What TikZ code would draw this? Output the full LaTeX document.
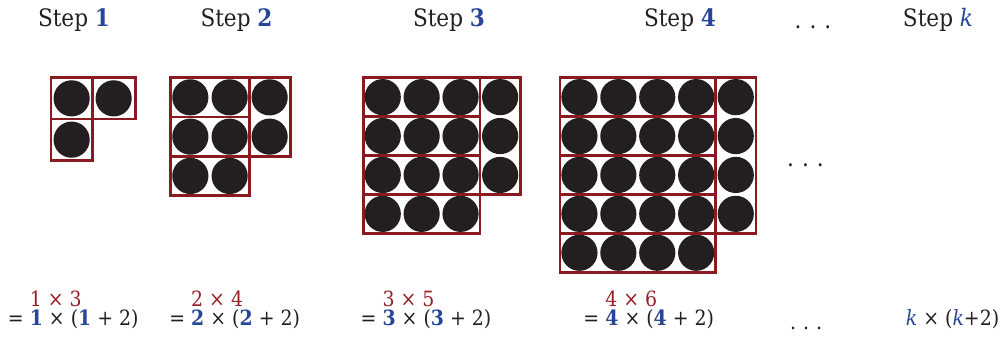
\documentclass[tikz,border=0pt]{standalone}
\usepackage{fontspec}
\setmainfont[FakeStretch=0.9]{DejaVu Serif}
\definecolor{dotc}{RGB}{35,31,32}
\definecolor{boxc}{RGB}{136,26,32}
\definecolor{numb}{RGB}{40,70,150}
\definecolor{redt}{RGB}{150,32,38}
\definecolor{txt}{RGB}{35,31,32}
\newcommand\dotstep[4]{% #1 n, #2 left, #3 top, #4 cell
  \foreach \j in {0,...,#1}{\foreach \i in {1,...,#1}{
    \fill[dotc] ({#2+(\i-0.5)*#4},{#3+(\j+0.5)*#4}) circle (18.1pt);}}
  \foreach \j in {1,...,#1}{
    \fill[dotc] ({#2+(#1+0.5)*#4+0.7},{#3+(\j-0.5)*#4}) circle (18.1pt);}
  \foreach \j in {0,...,#1}{
    \draw[boxline] (#2,{#3+\j*#4}) rectangle ({#2+#1*#4},{#3+(\j+1)*#4});}
  \draw[boxline] ({#2+#1*#4},#3) rectangle ({#2+(#1+1)*#4+1.5},{#3+#1*#4});
}
\newcommand\bn[1]{\textcolor{numb}{\textbf{#1}}}
\newcommand\kk{\textcolor{numb}{\textit{k}}}
\begin{document}
\begin{tikzpicture}[x=1pt,y=-1pt,
  boxline/.style={draw=boxc,line width=2.8pt},
  lbl/.style={inner sep=0pt,anchor=base,text=txt,font=\fontsize{24}{28}\selectfont},
  eq/.style={inner sep=0pt,anchor=base,text=txt,font=\fontsize{21}{25}\selectfont},
  prod/.style={inner sep=0pt,anchor=base west,text=redt,font=\fontsize{21}{25}\selectfont,yshift=19pt}]
\useasboundingbox (0,0) rectangle (1003,342);
% top labels
\node[lbl] (s1) at (74,27) {Step \bn{1}};
\node[lbl] (s2) at (236.5,27) {Step \bn{2}};
\node[lbl] (s3) at (449,27) {Step \bn{3}};
\node[lbl] (s4) at (680,27) {Step \bn{4}};
\node[lbl] (sd) at (813,28.5) {.\,\,.\,\,.};
\node[lbl] (sk) at (938,27) {Step \kk};
% dot patterns
\dotstep{1}{51}{77.7}{41.3}
\dotstep{2}{170.7}{77.7}{39.3}
\dotstep{3}{363.3}{77.7}{38.9}
\dotstep{4}{560}{77.7}{38.9}
\node[lbl] (md) at (805.5,166) {.\,\,.\,\,.};
% formulas
\node[eq] (e1) at (73.3,325) {= \bn{1} × (\bn{1} + 2)};
\node[eq] (e2) at (234.7,325) {= \bn{2} × (\bn{2} + 2)};
\node[eq] (e3) at (426,325) {= \bn{3} × (\bn{3} + 2)};
\node[eq] (e4) at (648.8,325) {= \bn{4} × (\bn{4} + 2)};
\node[eq] (ed) at (806,329.5) {.\,\,.\,\,.};
\node[eq] (ek) at (952.5,325) {\kk{} × (\kk+2)};
\node[prod] (p1) at (e1.base west) {\phantom{=}\ 1 × 3};
\node[prod] (p2) at (e2.base west) {\phantom{=}\ 2 × 4};
\node[prod] (p3) at (e3.base west) {\phantom{=}\ 3 × 5};
\node[prod] (p4) at (e4.base west) {\phantom{=}\ 4 × 6};
\end{tikzpicture}
\end{document}
